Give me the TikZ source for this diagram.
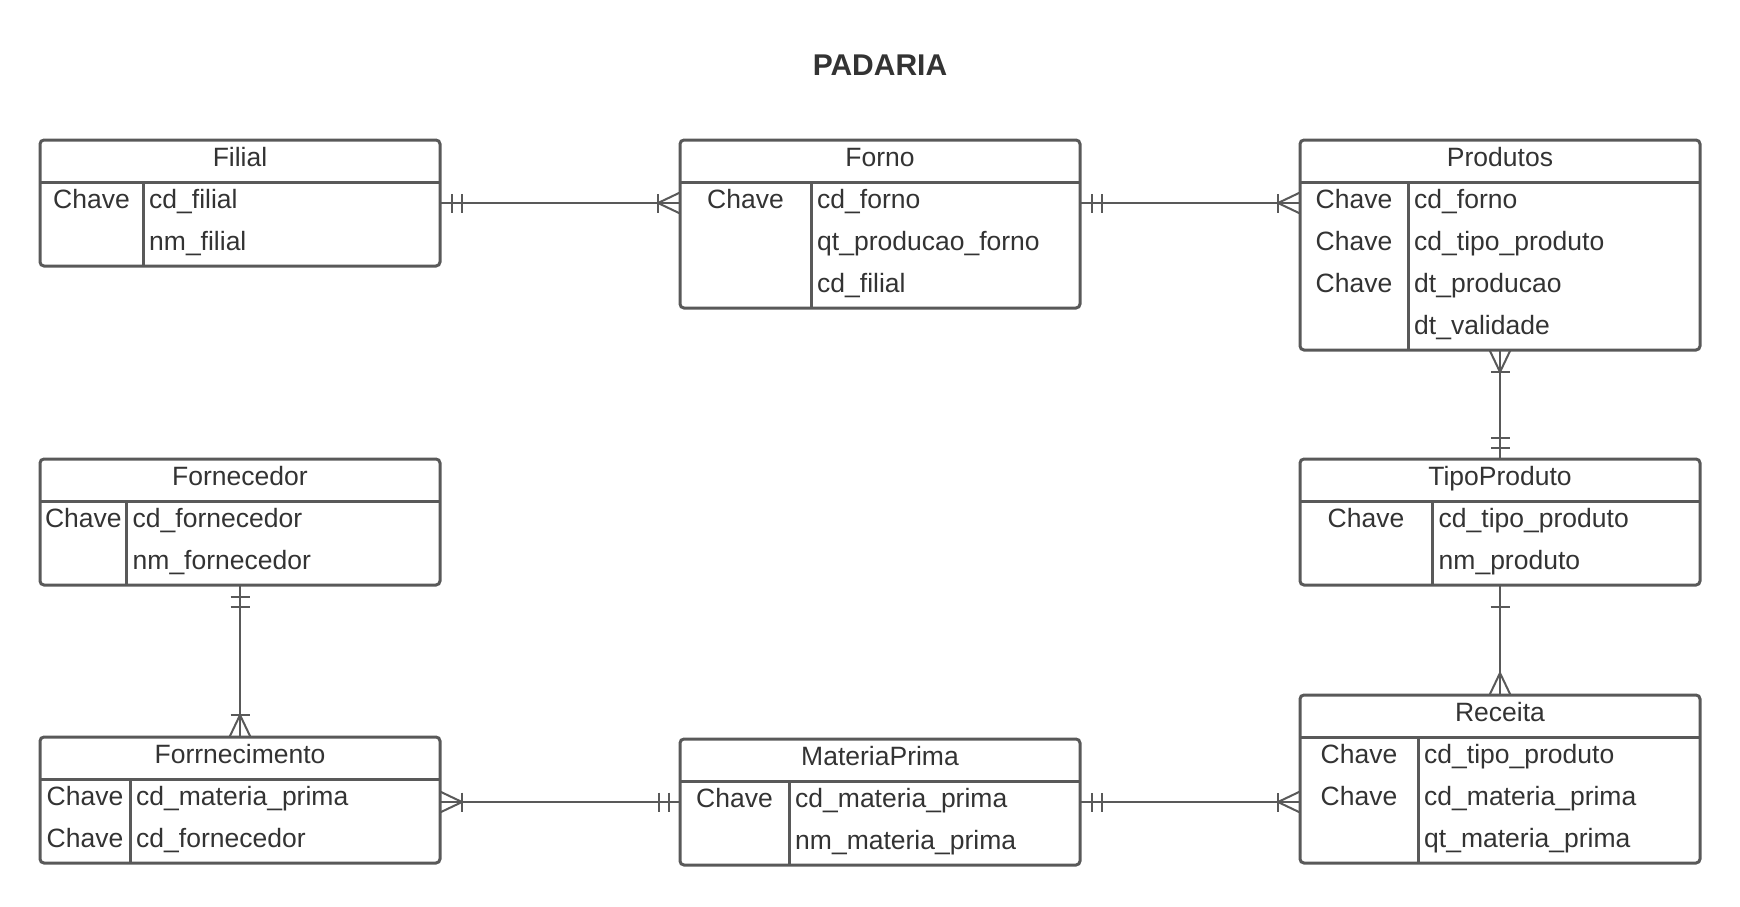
\documentclass[tikz,border=0pt]{standalone}
\usepackage{fontspec}
\setmainfont{Liberation Sans}
\usepackage{tikz}
\usetikzlibrary{decorations.markings}
\definecolor{erline}{RGB}{89,89,89}
\definecolor{ertext}{RGB}{51,51,51}
\newcommand{\erfont}{\fontsize{26.5}{30}\selectfont}
\tikzset{
  erbox/.style   ={rectangle, rounded corners=4pt, draw=erline, line width=3pt,
                   minimum width=400pt, anchor=north west, inner sep=0pt, outer sep=0pt},
  ertitle/.style ={minimum width=400pt, minimum height=42pt, anchor=north,
                   inner sep=0pt, outer sep=0pt, text height=18pt, text depth=7pt,
                   font=\erfont, text=ertext},
  erkey/.style   ={inner sep=0pt, text height=18pt, text depth=7pt,
                   font=\erfont, text=ertext},
  erfield/.style ={erkey, anchor=west},
  errule/.style  ={draw=erline, line width=3pt},
  rel/.style     ={draw=erline, line width=2pt},
  onlyone/.style ={postaction={decorate, decoration={markings,
                   mark=at position 11.5pt with {\draw[rel] (0,-9.5pt) -- (0,9.5pt);},
                   mark=at position 21.5pt with {\draw[rel] (0,-9.5pt) -- (0,9.5pt);}}}},
  oneside/.style ={postaction={decorate, decoration={markings,
                   mark=at position 22pt with {\draw[rel] (0,-9.5pt) -- (0,9.5pt);}}}},
  manyone/.style ={postaction={decorate, decoration={markings,
                   mark=at position -22pt with {\draw[rel] (0,-9.5pt) -- (0,9.5pt);
                   \draw[rel] (22pt,10.5pt) -- (0,0) -- (22pt,-10.5pt);}}}},
  manyend/.style ={postaction={decorate, decoration={markings,
                   mark=at position -22pt with {
                   \draw[rel] (22pt,10.5pt) -- (0,0) -- (22pt,-10.5pt);}}}}
}

\begin{document}
\begin{tikzpicture}[x=1pt, y=-1pt]
  \useasboundingbox (0,0) rectangle (1740,906);
  \node[font=\fontsize{30}{36}\selectfont\bfseries, text=ertext] (title) at (880,65) {PADARIA};

  % ---------------- Filial ----------------
  \node[erbox, minimum height=126pt] (filial) at (40,140) {};
  \node[ertitle] (filial-t) at (filial.north) {Filial};
  \draw[errule] (filial-t.south west) -- (filial-t.south east);
  \draw[errule] (143,182) -- (143,266);
  \node[erkey]   (filial-k1) at (91.5,203) {Chave};
  \node[erfield] (filial-f1) at (149,203)  {cd\_filial};
  \node[erfield] (filial-f2) at (149,245)  {nm\_filial};

  % ---------------- Forno ----------------
  \node[erbox, minimum height=168pt] (forno) at (680,140) {};
  \node[ertitle] (forno-t) at (forno.north) {Forno};
  \draw[errule] (forno-t.south west) -- (forno-t.south east);
  \draw[errule] (811,182) -- (811,308);
  \node[erkey]   (forno-k1) at (745.5,203) {Chave};
  \node[erfield] (forno-f1) at (817,203)   {cd\_forno};
  \node[erfield] (forno-f2) at (817,245)   {qt\_producao\_forno};
  \node[erfield] (forno-f3) at (817,287)   {cd\_filial};

  % ---------------- Produtos ----------------
  \node[erbox, minimum height=210pt] (prod) at (1300,140) {};
  \node[ertitle] (prod-t) at (prod.north) {Produtos};
  \draw[errule] (prod-t.south west) -- (prod-t.south east);
  \draw[errule] (1408,182) -- (1408,350);
  \node[erkey]   (prod-k1) at (1354,203) {Chave};
  \node[erkey]   (prod-k2) at (1354,245) {Chave};
  \node[erkey]   (prod-k3) at (1354,287) {Chave};
  \node[erfield] (prod-f1) at (1414,203) {cd\_forno};
  \node[erfield] (prod-f2) at (1414,245) {cd\_tipo\_produto};
  \node[erfield] (prod-f3) at (1414,287) {dt\_producao};
  \node[erfield] (prod-f4) at (1414,329) {dt\_validade};

  % ---------------- Fornecedor ----------------
  \node[erbox, minimum height=126pt] (forn) at (40,459) {};
  \node[ertitle] (forn-t) at (forn.north) {Fornecedor};
  \draw[errule] (forn-t.south west) -- (forn-t.south east);
  \draw[errule] (126.5,501) -- (126.5,585);
  \node[erkey]   (forn-k1) at (83.3,522)  {Chave};
  \node[erfield] (forn-f1) at (132.5,522) {cd\_fornecedor};
  \node[erfield] (forn-f2) at (132.5,564) {nm\_fornecedor};

  % ---------------- TipoProduto ----------------
  \node[erbox, minimum height=126pt] (tipo) at (1300,459) {};
  \node[ertitle] (tipo-t) at (tipo.north) {TipoProduto};
  \draw[errule] (tipo-t.south west) -- (tipo-t.south east);
  \draw[errule] (1432.5,501) -- (1432.5,585);
  \node[erkey]   (tipo-k1) at (1366,522)   {Chave};
  \node[erfield] (tipo-f1) at (1438.5,522) {cd\_tipo\_produto};
  \node[erfield] (tipo-f2) at (1438.5,564) {nm\_produto};

  % ---------------- Receita ----------------
  \node[erbox, minimum height=168pt] (rec) at (1300,695) {};
  \node[ertitle] (rec-t) at (rec.north) {Receita};
  \draw[errule] (rec-t.south west) -- (rec-t.south east);
  \draw[errule] (1418,737) -- (1418,863);
  \node[erkey]   (rec-k1) at (1359,758) {Chave};
  \node[erkey]   (rec-k2) at (1359,800) {Chave};
  \node[erfield] (rec-f1) at (1424,758) {cd\_tipo\_produto};
  \node[erfield] (rec-f2) at (1424,800) {cd\_materia\_prima};
  \node[erfield] (rec-f3) at (1424,842) {qt\_materia\_prima};

  % ---------------- Forrnecimento ----------------
  \node[erbox, minimum height=126pt] (forc) at (40,737) {};
  \node[ertitle] (forc-t) at (forc.north) {Forrnecimento};
  \draw[errule] (forc-t.south west) -- (forc-t.south east);
  \draw[errule] (130,779) -- (130,863);
  \node[erkey]   (forc-k1) at (85,800)  {Chave};
  \node[erkey]   (forc-k2) at (85,842)  {Chave};
  \node[erfield] (forc-f1) at (136,800) {cd\_materia\_prima};
  \node[erfield] (forc-f2) at (136,842) {cd\_fornecedor};

  % ---------------- MateriaPrima ----------------
  \node[erbox, minimum height=126pt] (mat) at (680,739) {};
  \node[ertitle] (mat-t) at (mat.north) {MateriaPrima};
  \draw[errule] (mat-t.south west) -- (mat-t.south east);
  \draw[errule] (789,781) -- (789,865);
  \node[erkey]   (mat-k1) at (734.5,802) {Chave};
  \node[erfield] (mat-f1) at (795,802)   {cd\_materia\_prima};
  \node[erfield] (mat-f2) at (795,844)   {nm\_materia\_prima};

  % ---------------- relations ----------------
  \draw[rel, onlyone, manyone] (filial.east |- filial-f1) -- (forno.west |- filial-f1);
  \draw[rel, onlyone, manyone] (forno.east |- forno-f1) -- (prod.west |- forno-f1);
  \draw[rel, onlyone, manyone] (tipo.north) -- (prod.south);
  \draw[rel, oneside, manyend] (tipo.south) -- (rec.north);
  \draw[rel, onlyone, manyone] (forn.south) -- (forc.north);
  \draw[rel, onlyone, manyone] (mat.west |- mat-f1) -- (forc.east |- mat-f1);
  \draw[rel, onlyone, manyone] (mat.east |- mat-f1) -- (rec.west |- mat-f1);
\end{tikzpicture}
\end{document}
